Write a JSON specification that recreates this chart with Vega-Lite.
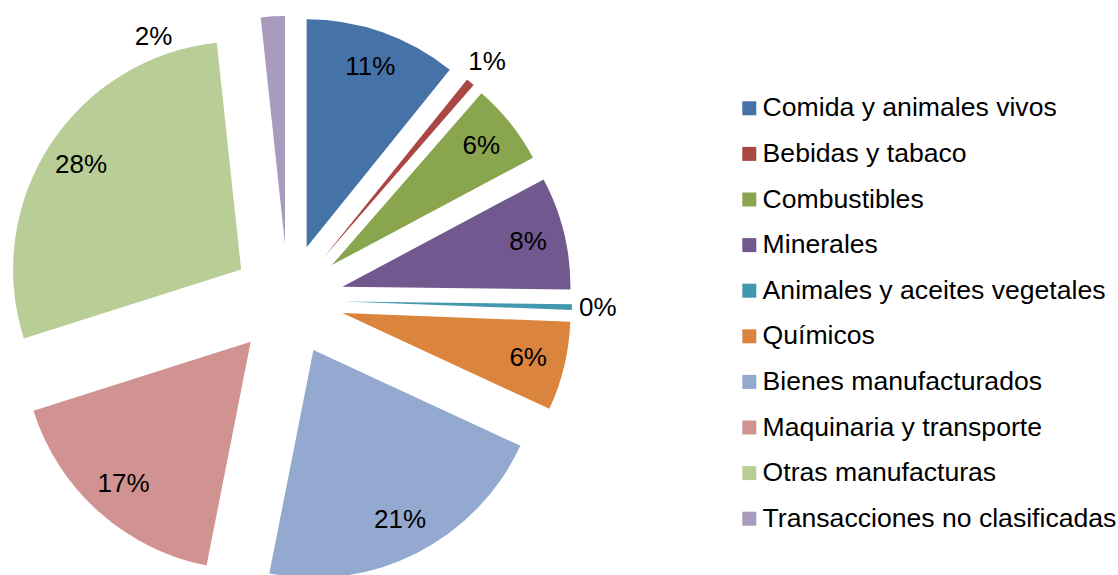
{
  "$schema": "https://vega.github.io/schema/vega-lite/v6.json",
  "width": 576,
  "height": 600,
  "padding": 0,
  "autosize": {"type": "pad"},
  "background": "white",
  "data": {
    "values": [
      {"i": 1, "cat": "Comida y animales vivos", "v": 0.108},
      {"i": 2, "cat": "Bebidas y tabaco", "v": 0.006},
      {"i": 3, "cat": "Combustibles", "v": 0.058},
      {"i": 4, "cat": "Minerales", "v": 0.080},
      {"i": 5, "cat": "Animales y aceites vegetales", "v": 0.004},
      {"i": 6, "cat": "Químicos", "v": 0.063},
      {"i": 7, "cat": "Bienes manufacturados", "v": 0.212},
      {"i": 8, "cat": "Maquinaria y transporte", "v": 0.170},
      {"i": 9, "cat": "Otras manufacturas", "v": 0.282},
      {"i": 10, "cat": "Transacciones no clasificadas", "v": 0.017}
    ]
  },
  "encoding": {
    "theta": {"field": "v", "type": "quantitative", "stack": true},
    "order": {"field": "i", "type": "quantitative"},
    "color": {
      "field": "cat",
      "type": "nominal",
      "scale": {
        "domain": ["Comida y animales vivos", "Bebidas y tabaco", "Combustibles", "Minerales", "Animales y aceites vegetales", "Químicos", "Bienes manufacturados", "Maquinaria y transporte", "Otras manufacturas", "Transacciones no clasificadas"],
        "range": ["#4572A7", "#AA4643", "#89A54E", "#71588F", "#4198AF", "#DB843D", "#93A9CF", "#D19392", "#B9CD96", "#A99BBD"]
      },
      "legend": {
        "title": null,
        "orient": "none",
        "legendX": 736,
        "legendY": 95,
        "padding": 0,
        "symbolType": "square",
        "symbolSize": 196,
        "symbolStrokeWidth": 0,
        "symbolOffset": 0,
        "labelOffset": 0,
        "labelFont": "Liberation Sans",
        "labelFontSize": 26.6,
        "labelColor": "black",
        "labelLimit": 0,
        "rowPadding": 18.6
      }
    }
  },
  "layer": [
    {
      "mark": {
        "type": "arc",
        "outerRadius": 228,
        "xOffset": {"expr": "56*sin(scale('theta',(datum.v_start+datum.v_end)/2))"},
        "yOffset": {"expr": "-56*cos(scale('theta',(datum.v_start+datum.v_end)/2))"}
      }
    },
    {
      "mark": {
        "type": "text",
        "font": "Liberation Sans",
        "fontSize": 26,
        "color": "black",
        "radius": {"expr": "datum.v < 0.02 ? (datum.i == 10 ? 245 : 254) : 191"},
        "thetaOffset": {"expr": "datum.i == 10 ? -0.513 : 0"},
        "xOffset": {"expr": "56*sin(scale('theta',(datum.v_start+datum.v_end)/2))"},
        "yOffset": {"expr": "-56*cos(scale('theta',(datum.v_start+datum.v_end)/2))"}
      },
      "encoding": {
        "text": {"field": "v", "type": "quantitative", "format": ".0%"},
        "color": {"value": "black"}
      }
    }
  ]
}
